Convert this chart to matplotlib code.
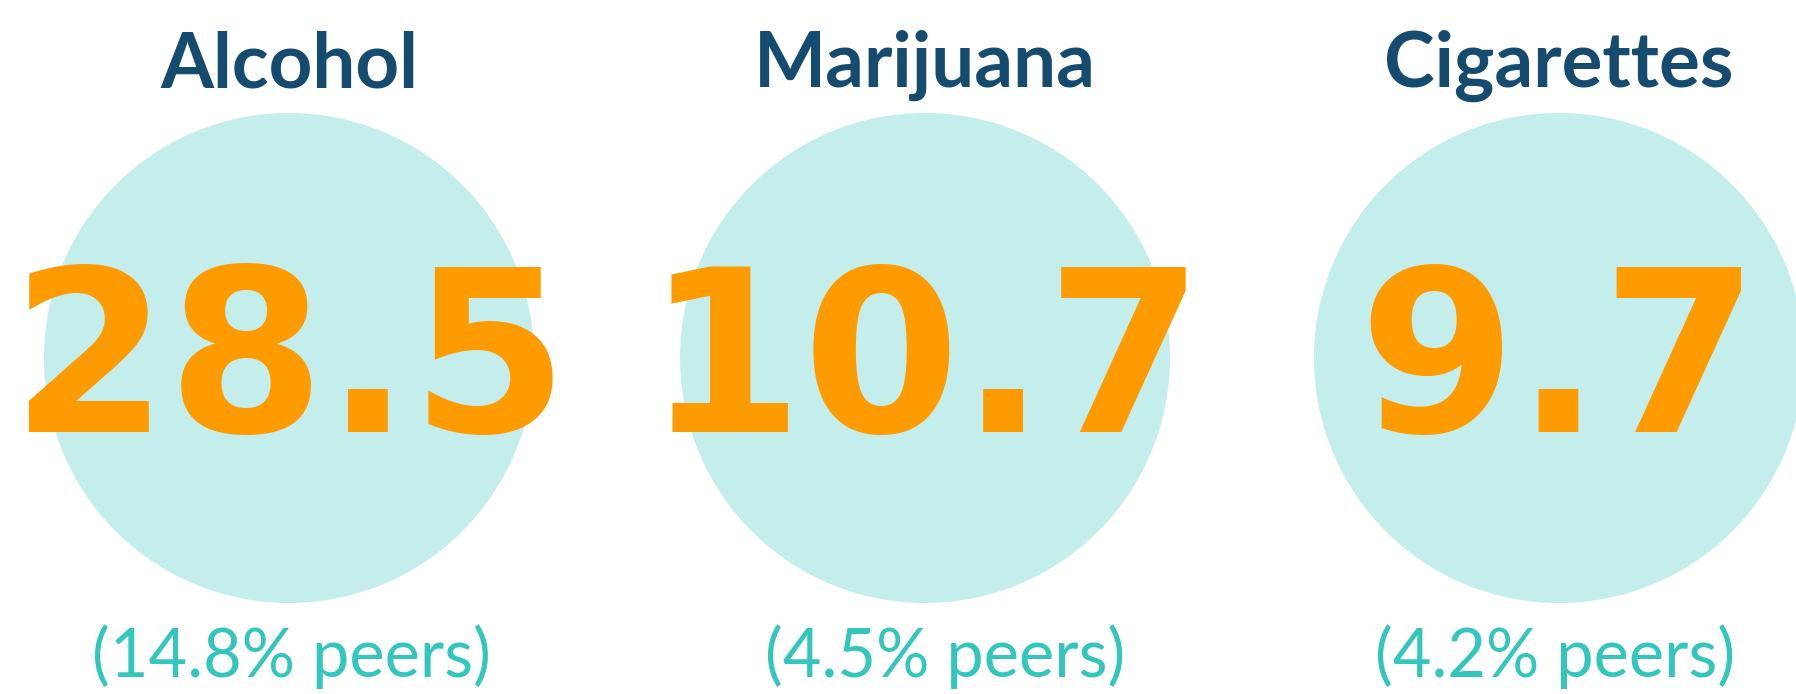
import matplotlib
matplotlib.use('Agg')
import matplotlib.pyplot as plt
from matplotlib.patches import Circle

# data
substances = ['Alcohol', 'Marijuana', 'Cigarettes']
rates = [28.5, 10.7, 9.7]
peer_rates = [14.8, 4.5, 4.2]

# layout (pixels)
W, H = 1796, 694
centers_x = [289, 925, 1559]
peer_shift = [2, 20, -4]
circle_y = 358
radius = 245

title_color = '#144b6f'
num_color = '#fd9b00'
peer_color = '#33c6bd'
circle_color = '#c4eeec'

fig = plt.figure(figsize=(W / 100, H / 100), dpi=100)
ax = fig.add_axes([0, 0, 1, 1])
ax.set_xlim(0, W)
ax.set_ylim(H, 0)
ax.set_aspect('equal')
ax.axis('off')

for i, name in enumerate(substances):
    cx = centers_x[i]
    ax.add_patch(Circle((cx, circle_y), radius, color=circle_color, lw=0, zorder=1))
    ax.text(cx, 87, name, ha='center', va='baseline', fontsize=55,
            fontweight='bold', family=['Lato', 'DejaVu Sans'], color=title_color, zorder=3)
    ax.text(cx, 432, f'{rates[i]:.1f}', ha='center', va='baseline', fontsize=163,
            fontweight='bold', family='DejaVu Sans', color=num_color, zorder=3)
    ax.text(cx + peer_shift[i], 677, f'({peer_rates[i]:.1f}% peers)', ha='center',
            va='baseline', fontsize=48, family=['Lato', 'DejaVu Sans'], color=peer_color, zorder=3)

fig.savefig('out.png', dpi=100)
